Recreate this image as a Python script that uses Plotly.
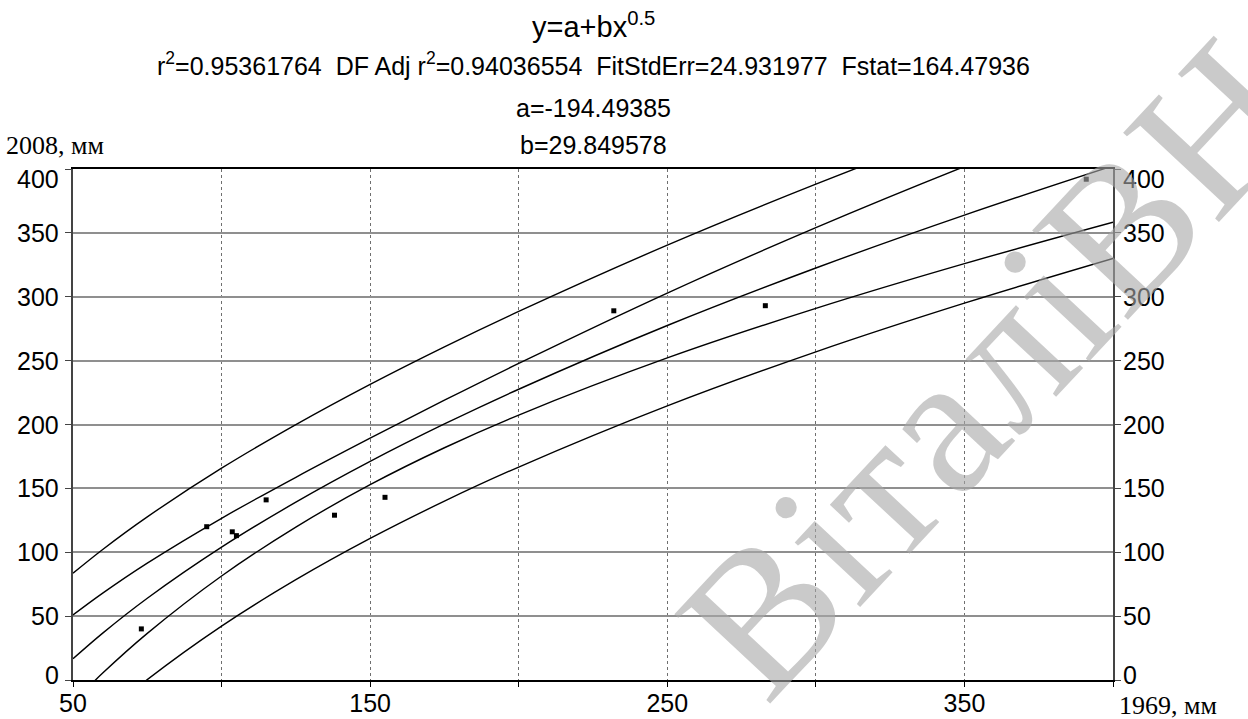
import plotly.graph_objects as go

# observed points (1969 mm vs 2008 mm)
obs_x = [73, 95, 103.6, 105, 115, 138, 155, 232, 283, 391]
obs_y = [40, 120, 116, 113, 141, 129, 143, 289, 293, 392]

# curves (fit, confidence and prediction bands)
curve_x = [50, 60, 75, 100, 125, 150, 175, 200, 250, 300, 350, 400]
fit_y = [16.6, 36.7, 64.0, 104.0, 139.2, 171.1, 200.4, 227.6, 277.5, 322.5, 363.9, 402.5]
upper_pred = [83.6, 102.2, 127.7, 165.8, 199.9, 231.4, 260.8, 288.5, 340.4, 388.1, 432.8, 475.0]
upper_conf = [50.9, 68.0, 91.5, 126.6, 158.7, 189.3, 219.0, 247.8, 302.9, 354.1, 401.9, 446.7]
lower_conf = [-17.7, 5.4, 36.5, 81.4, 119.7, 152.9, 181.8, 207.4, 252.1, 290.9, 325.9, 358.3]
lower_pred = [-50.4, -28.8, 0.3, 42.2, 78.5, 110.8, 140.0, 166.7, 214.6, 256.9, 295.0, 330.0]

x_label_vals = [50, 150, 250, 350]
x_minor_vals = [100, 200, 300, 400]
y_tick_vals = [0, 50, 100, 150, 200, 250, 300, 350, 400]
y_tick_text = ["0", "50", "100", "150", "200", "250", "300", "350", "400"]

title_lines = [
    "y=a+bx<sup>0.5</sup>",
    "r<sup>2</sup>=0.95361764\u00a0\u00a0DF Adj r<sup>2</sup>=0.94036554\u00a0\u00a0FitStdErr=24.931977\u00a0\u00a0Fstat=164.47936",
    "a=-194.49385",
    "b=29.849578",
]
title_px = [25, 64, 108, 145]
title_size = [29, 25, 25, 25]

SANS = "Liberation Sans, Arial, sans-serif"
SERIF = "Liberation Serif, Times New Roman, serif"

fig = go.Figure()
for ys in [upper_pred, upper_conf, fit_y, lower_conf, lower_pred]:
    fig.add_trace(go.Scatter(x=curve_x, y=ys, mode="lines", line=dict(color="black", width=1.4, shape="spline"),
                             showlegend=False, hoverinfo="skip"))
fig.add_trace(go.Scatter(x=obs_x, y=obs_y, mode="markers",
                         marker=dict(symbol="square", size=5, color="black"), showlegend=False))

L, R, T, B = 73, 135, 169, 39
W, H = 1248, 719
ph = H - T - B
pw = W - L - R

anns = []
for txt, py, fs in zip(title_lines, title_px, title_size):
    anns.append(dict(text=txt, x=0.5, xref="paper", y=(H - B - py) / ph, yref="paper",
                     xanchor="center", yanchor="middle", showarrow=False,
                     font=dict(family=SANS, size=fs, color="black")))
anns.append(dict(text="2008, мм", x=(4 - L) / pw, xref="paper", y=(H - B - 146) / ph, yref="paper",
                 xanchor="left", yanchor="middle", showarrow=False,
                 font=dict(family=SERIF, size=26, color="black")))
anns.append(dict(text="1969, мм", x=(1117 - L) / pw, xref="paper", y=(H - B - 705) / ph, yref="paper",
                 xanchor="left", yanchor="middle", showarrow=False,
                 font=dict(family=SERIF, size=26, color="black")))

axis_font = dict(family=SANS, size=25, color="black")
# y tick labels on both sides (extreme labels kept inside the frame as in the original)
for v, t in zip(y_tick_vals, y_tick_text):
    shift = -10 if v == y_tick_vals[-1] else (5 if v == y_tick_vals[0] else 0)
    anns.append(dict(text=t, x=(61 - L) / pw, xref="paper", y=v, yref="y", yshift=shift,
                     xanchor="right", yanchor="middle", showarrow=False, font=axis_font))
    anns.append(dict(text=t, x=(1121 - L) / pw, xref="paper", y=v, yref="y", yshift=shift,
                     xanchor="left", yanchor="middle", showarrow=False, font=axis_font))

anns.append(dict(text="ВіталіВН", x=(990 - L) / pw, xref="paper", y=(H - B - 368) / ph, yref="paper",
                 xanchor="center", yanchor="middle", showarrow=False, textangle=-47, opacity=0.6,
                 font=dict(family=SERIF, size=200, color="#a8a8a8")))

fig.update_layout(
    width=W, height=H,
    margin=dict(l=L, r=R, t=T, b=B, pad=0, autoexpand=False),
    paper_bgcolor="white", plot_bgcolor="white",
    annotations=anns,
    xaxis=dict(range=[50, 400], tickvals=x_label_vals, tickfont=axis_font, automargin=False,
               ticklabelstandoff=-5,
               showgrid=True, gridcolor="#6f6f6f", griddash="dot", gridwidth=1,
               minor=dict(tickvals=x_minor_vals, ticks="outside", ticklen=5, tickcolor="black",
                          showgrid=True, gridcolor="#6f6f6f", griddash="dot", gridwidth=1),
               showline=True, linecolor="black", linewidth=2, mirror=True,
               ticks="outside", ticklen=5, tickcolor="black", zeroline=False),
    yaxis=dict(range=[0, 400], tickvals=y_tick_vals, showticklabels=False, automargin=False,
               showgrid=True, gridcolor="#8f8f8f", gridwidth=1.5,
               showline=True, linecolor="#444444", linewidth=2, mirror="ticks",
               ticks="outside", ticklen=6, tickcolor="#444444", zeroline=False),
)

fig.write_html("out.html")
